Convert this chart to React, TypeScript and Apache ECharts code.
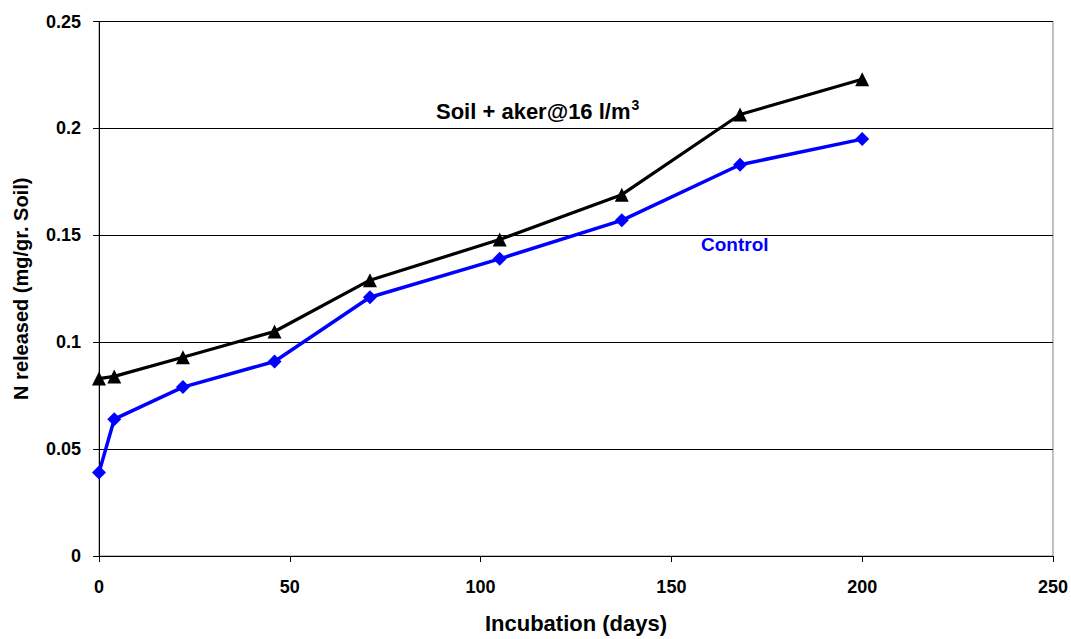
import React, { useEffect, useRef } from "react";
import * as echarts from "echarts";

const days = [0, 4, 22, 46, 71, 105, 137, 168, 200];
const controlValues = [0.039, 0.064, 0.079, 0.091, 0.121, 0.139, 0.157, 0.183, 0.195];
const akerValues = [0.083, 0.084, 0.093, 0.105, 0.129, 0.148, 0.169, 0.2065, 0.223];
const yTicks = [0, 0.05, 0.1, 0.15, 0.2, 0.25];

export default function App() {
  const ref = useRef<HTMLDivElement>(null);
  useEffect(() => {
    if (!ref.current) return;
    document.body.style.margin = "0";
    document.body.style.overflow = "hidden";
    const chart = echarts.init(ref.current, undefined, { renderer: "svg" });
    const font = "Liberation Sans, Arial, sans-serif";
    chart.setOption({
      animation: false,
      backgroundColor: "#ffffff",
      grid: {
        left: 99,
        right: 18,
        top: 21.5,
        bottom: 80,
        show: true,
        borderColor: "#808080",
        borderWidth: 1,
      },
      xAxis: {
        type: "value",
        min: 0,
        max: 250,
        interval: 50,
        name: "Incubation (days)",
        nameLocation: "middle",
        nameGap: 56,
        nameTextStyle: { fontFamily: font, fontWeight: "bold", fontSize: 22, color: "#000" },
        axisLine: { show: true, lineStyle: { color: "#000", width: 1 } },
        axisTick: { show: true, length: 6, lineStyle: { color: "#000" } },
        axisLabel: { fontFamily: font, fontWeight: "bold", fontSize: 18, color: "#000", margin: 22 },
        splitLine: { show: false },
      },
      yAxis: {
        type: "value",
        min: 0,
        max: 0.25,
        interval: 0.05,
        name: "N released (mg/gr. Soil)",
        nameLocation: "middle",
        nameGap: 68,
        nameTextStyle: { fontFamily: font, fontWeight: "bold", fontSize: 20, color: "#000" },
        axisLine: { show: true, lineStyle: { color: "#000", width: 1 } },
        axisTick: { show: true, length: 6, lineStyle: { color: "#000" } },
        axisLabel: {
          fontFamily: font,
          fontWeight: "bold",
          fontSize: 18,
          color: "#000",
          margin: 18,
          formatter: (v: number) => {
            const t = yTicks.find((x) => Math.abs(x - v) < 1e-9);
            return String(t !== undefined ? Number(t.toFixed(2)) : v);
          },
        },
        splitLine: { show: true, lineStyle: { color: "#000", width: 1 } },
      },
      series: [
        {
          name: "Control",
          type: "line",
          data: days.map((d, i) => [d, controlValues[i]]),
          symbol: "diamond",
          symbolSize: 14,
          lineStyle: { color: "#0000ff", width: 3.5 },
          itemStyle: { color: "#0000ff" },
          z: 3,
        },
        {
          name: "Soil + aker@16 l/m3",
          type: "line",
          data: days.map((d, i) => [d, akerValues[i]]),
          symbol: "triangle",
          symbolSize: 14,
          lineStyle: { color: "#000000", width: 3.2 },
          itemStyle: { color: "#000000" },
          z: 4,
        },
      ],
      graphic: [
        {
          type: "text",
          left: 436,
          top: 98,
          style: {
            text: "{a|Soil + aker@16 l/m}{s|3}",
            rich: {
              a: { fontFamily: font, fontWeight: "bold", fontSize: 22, fill: "#000", verticalAlign: "bottom" },
              s: { fontFamily: font, fontWeight: "bold", fontSize: 14, fill: "#000", verticalAlign: "top", padding: [0, 0, 10, 1] },
            },
          },
        },
        {
          type: "text",
          left: 701,
          top: 235,
          style: {
            text: "Control",
            fontFamily: font,
            fontWeight: "bold",
            fontSize: 19,
            fill: "#0000ff",
          },
        },
      ],
    });
    return () => chart.dispose();
  }, []);
  return (
    <div
      ref={ref}
      style={{ position: "fixed", left: 0, top: 0, width: 1071, height: 639 }}
    />
  );
}
